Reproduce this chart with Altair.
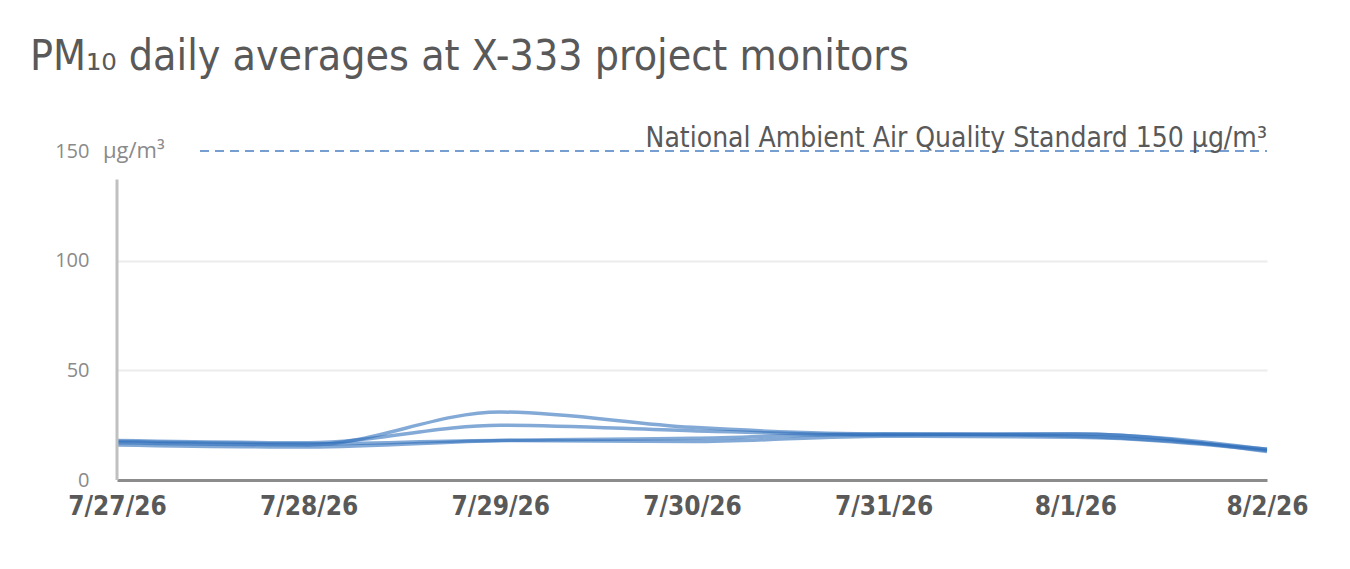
import altair as alt
import pandas as pd

# PM10 daily averages, four monitors
days = ["7/27/26", "7/28/26", "7/29/26", "7/30/26", "7/31/26", "8/1/26", "8/2/26"]
monitor_a = [17, 16, 31, 24, 21, 21, 13]
monitor_b = [18, 17, 25, 22.5, 20.5, 21, 14]
monitor_c = [16, 15, 18, 19, 21, 20, 14]
monitor_d = [17.5, 16.5, 18, 17.5, 20, 19.5, 13.5]
standard = 150

COND = "'DejaVu Sans Condensed', 'Liberation Sans Narrow', Roboto, sans-serif"

rows = []
for name, vals in [("A", monitor_a), ("B", monitor_b), ("C", monitor_c), ("D", monitor_d)]:
    for i, v in enumerate(vals):
        rows.append({"monitor": name, "day": i, "pm10": v})
df = pd.DataFrame(rows)

label_expr = "[" + ",".join("'%s'" % d for d in days) + "][datum.value]"

x_enc = alt.X("day:Q", scale=alt.Scale(domain=[0, len(days) - 1], nice=False),
              axis=alt.Axis(values=list(range(len(days))), labelExpr=label_expr, title=None,
                            grid=False, ticks=False, domainColor="#8c8c8c", domainWidth=3,
                            labelFont=COND, labelFontSize=26, labelFlush=False,
                            labelFontWeight="bold", labelColor="#595959", labelPadding=13))
y_scale = alt.Scale(domain=[0, 150], nice=False)

lines = alt.Chart(df).mark_line(interpolate="monotone", strokeWidth=3.5, opacity=0.6,
                                color="#3070ba").encode(
    x=x_enc,
    y=alt.Y("pm10:Q", scale=y_scale,
            axis=alt.Axis(values=[0, 50, 100, 150], title=None, ticks=False, domain=False,
                          gridColor="#ececec", gridWidth=2,
                          gridOpacity=alt.ExprRef("datum.value == 50 || datum.value == 100 ? 1 : 0"),
                          labelFont="Open Sans", labelFontSize=20, labelColor="#8a8a8a",
                          labelPadding=28)),
    detail="monitor:N",
)

# left axis line (stops short of the 150 level)
yline = alt.Chart(pd.DataFrame({"day": [0], "lo": [0], "hi": [137]})).mark_rule(
    color="#c0c0c0", strokeWidth=3).encode(x="day:Q", y="lo:Q", y2="hi:Q")

std_df = pd.DataFrame({"y": [standard]})
std_rule = alt.Chart(std_df).mark_rule(color="#4a7fc1", strokeDash=[9, 6], strokeWidth=1.5).encode(
    y=alt.Y("y:Q", scale=y_scale), x=alt.value(83), x2=alt.value(1150))
std_text = alt.Chart(std_df).mark_text(
    text="National Ambient Air Quality Standard 150 µg/m³", align="right", baseline="alphabetic",
    dy=-4, font=COND, fontSize=28, color="#595959").encode(
    y=alt.Y("y:Q", scale=y_scale), x=alt.value(1150))
unit_text = alt.Chart(std_df).mark_text(
    text="µg/m³", align="left", baseline="middle", font="Open Sans", fontSize=22,
    color="#8a8a8a").encode(y=alt.Y("y:Q", scale=y_scale), x=alt.value(-14))

chart = alt.layer(lines, yline, std_rule, std_text, unit_text).properties(
    width=1150, height=329,
    autosize=alt.AutoSizeParams(type="none"),
    padding={"left": 109, "top": 143, "right": 70, "bottom": 60},
    title=alt.Title("PM₁₀ daily averages at X-333 project monitors", anchor="start",
                    frame="group", dx=-87, offset=47, font=COND,
                    fontSize=42.5, fontWeight="normal", color="#595959"),
).configure_view(stroke=None)

chart.save("out.html", embed_options={"renderer": "svg", "actions": False})
